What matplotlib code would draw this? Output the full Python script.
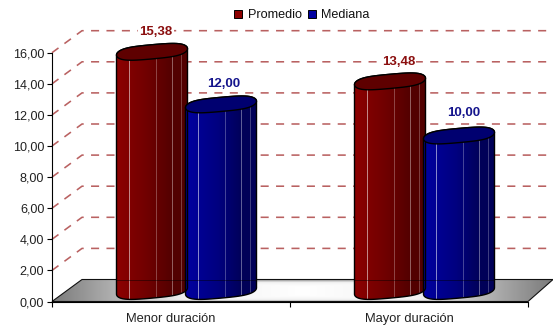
import numpy as np
import matplotlib
matplotlib.use("Agg")
import matplotlib.pyplot as plt
from matplotlib.patches import Polygon, Patch
from matplotlib.colors import LinearSegmentedColormap

categories = ["Menor duración", "Mayor duración"]
series_names = ["Promedio", "Mediana"]
promedio = [15.38, 13.48]
mediana = [12.00, 10.00]
value_labels = [["15,38", "13,48"], ["12,00", "10,00"]]
y_ticks = [0, 2, 4, 6, 8, 10, 12, 14, 16]
y_tick_labels = ["0,00", "2,00", "4,00", "6,00", "8,00", "10,00", "12,00", "14,00", "16,00"]

W, H = 553, 327
plt.rcParams["font.family"] = ["Liberation Sans", "DejaVu Sans"]
plt.rcParams["lines.scale_dashes"] = False
fig = plt.figure(figsize=(W / 100, H / 100), dpi=100, facecolor="white")
L, R, B, T = 52.0, 528.0, 301.5, 52.7
ax = fig.add_axes([L / W, 1 - B / H, (R - L) / W, (B - T) / H])
ax.set_xlim(0, 2)
ax.set_ylim(0, 16)
ax.patch.set_visible(False)
XU = (R - L) / 2
YU = (B - T) / 16
px = lambda d: d / XU
py = lambda d: d / YU
DX_L, DX_R, DY = px(30), px(25), py(22)

# floor
fx = np.linspace(0, 1, 300)
fy = np.linspace(0, 1, 40)
U, V = np.meshgrid(fx, fy)
u = np.abs(U * 2 - 1)
v = np.abs(V * 2 - 1)
band = np.clip((v - 0.35) / 0.65, 0, 1) ** 1.3 * 0.8
shade = np.maximum(u ** 0.9, band)
floor_cm = LinearSegmentedColormap.from_list("floor", ["#ffffff", "#f2f2f2", "#7c7c7c"])
fl_pts = [(0, 0), (2, 0), (2 + DX_R, DY), (DX_L, DY)]
im = ax.imshow(shade, cmap=floor_cm, vmin=0, vmax=1, extent=[0, 2 + DX_R, 0, DY],
               origin="lower", aspect="auto", zorder=1, interpolation="bilinear")
poly = Polygon(fl_pts, closed=True, fc="none", ec="#111111", lw=0.8, zorder=1.5, clip_on=False)
ax.add_patch(poly)
im.set_clip_box(fig.bbox)
im.set_clip_path(poly)

# grid
dash = (0, (5.8, 5.3))
for t in y_ticks[1:]:
    ax.plot([0, DX_L, 2 + DX_L], [t, t + DY, t + DY], color="#a83a3a", lw=1.15,
            ls=dash, zorder=0.5, clip_on=False, alpha=0.8, dash_capstyle="butt")

# cylinders
WIDTH = 71 / XU
A = WIDTH / 2
BASE = py(10.5)
TILT = py(3.2)
EB = py(7.8)
STRIPES = [(0.18, 0.55), (0.56, 0.28), (0.78, 0.38), (0.906, 0.25)]


def cylinder(cx, val, dark, mid, end, top):
    t1 = np.linspace(np.pi, 2 * np.pi, 40)
    t2 = np.linspace(0, np.pi, 40)
    wob = lambda t: 0.09 * np.sin(3 * t) * EB
    bx = cx + A * np.cos(t1)
    by = BASE + TILT * np.cos(t1) + EB * np.sin(t1) + wob(t1)
    tx = cx + A * np.cos(t2)
    ty = BASE + val + TILT * np.cos(t2) + EB * np.sin(t2) + wob(t2)
    ty2 = BASE + val + TILT * np.cos(t1) + EB * np.sin(t1) + wob(t1)
    body = Polygon(np.column_stack([np.r_[bx, tx], np.r_[by, ty]]), closed=True,
                   fc="none", ec="black", lw=1.0, zorder=3.2, clip_on=False)
    ax.add_patch(body)
    cmap = LinearSegmentedColormap.from_list("b", [(0, dark), (0.45, mid), (0.8, end), (1, end)])
    g = np.linspace(0, 1, 72)[None, :]
    img = ax.imshow(g, cmap=cmap, vmin=0, vmax=1, aspect="auto", zorder=3,
                    extent=[cx - A, cx + A, 0, val + BASE + EB + TILT], interpolation="bilinear")
    img.set_clip_box(fig.bbox)
    img.set_clip_path(body)
    for f, a in STRIPES:
        l, = ax.plot([cx - A + f * WIDTH] * 2, [0, val + BASE + EB], color="white", lw=0.7,
                     alpha=a, zorder=3.1, clip_on=False)
        l.set_clip_on(True)
        l.set_clip_box(fig.bbox)
        l.set_clip_path(body)
    ln, = ax.plot([cx - A, cx + A], [DY, DY], color="black", lw=0.7, alpha=0.45, zorder=3.1)
    ln.set_clip_path(body)
    ax.add_patch(Polygon(np.column_stack([np.r_[tx, bx], np.r_[ty, ty2]]), closed=True,
                         fc=top, ec="black", lw=1.0, zorder=3.3, clip_on=False))


x_pos = np.arange(len(categories)) + 0.5
OFF = [px(-19.0), px(50.0)]
styles = [("#8c0000", "#6e0000", "#520000", "#5e0000"),
          ("#0000a0", "#000080", "#000058", "#000070")]
txt_colors = ["#8b0f0f", "#14148c"]
label_dx = [[4, 8.5], [3, 5]]
label_dy = [[1.93, 1.93], [1.98, 2.12]]
for s, vals in enumerate([promedio, mediana]):
    for i, val in enumerate(vals):
        cx = x_pos[i] + OFF[s]
        cylinder(cx, val, *styles[s])
        ax.text(cx + px(label_dx[s][i]), val + label_dy[s][i], value_labels[s][i], color=txt_colors[s],
                fontsize=9.5, fontweight="bold", ha="center", va="center", zorder=5,
                bbox=dict(fc="white", ec="none", pad=0.8), clip_on=False)

# axes
for k in ["top", "right"]:
    ax.spines[k].set_visible(False)
for k in ["left", "bottom"]:
    ax.spines[k].set_linewidth(0.8)
    ax.spines[k].set_zorder(2)
ax.set_yticks(y_ticks, y_tick_labels)
ax.set_xticks([0, 1, 2], ["", "", ""])
ax.set_xticks(x_pos, categories, minor=True)
ax.tick_params(axis="y", length=3.5, width=0.8, pad=2, labelsize=9.1, labelcolor="#222222")
ax.tick_params(axis="x", which="major", length=3.5, width=0.8)
ax.tick_params(axis="x", which="minor", length=0, pad=8, labelsize=9.3, labelcolor="#222222")

handles = [Patch(fc=styles[0][0], ec="black", lw=0.7), Patch(fc=styles[1][0], ec="black", lw=0.7)]
fig.legend(handles, series_names, ncol=2, loc="center", bbox_to_anchor=(302 / W, 1 - 15.5 / H),
           frameon=False, fontsize=9.1, handlelength=0.63, handleheight=0.63,
           handletextpad=0.43, columnspacing=0.52, borderpad=0, labelcolor="#111111")
fig.savefig("out.png", dpi=100, facecolor="white")
